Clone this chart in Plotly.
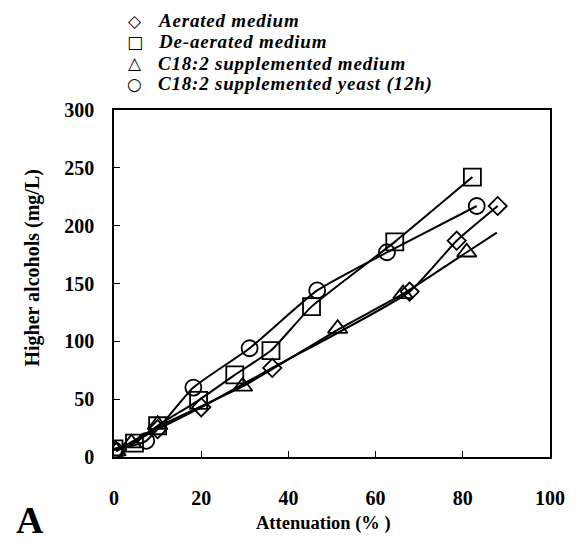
import plotly.graph_objects as go

# Data
aer_x = [0.5, 10, 20, 36.3, 67.8, 78.6, 88]
aer_y = [5, 24, 43, 77, 143, 187, 217]

dea_x = [0, 4.7, 10, 19.4, 27.7, 36, 45.3, 64.4, 82.2]
dea_y = [7, 12, 27, 49, 71, 92, 130, 186, 242]

med_x = [0.5, 4, 10, 29.5, 51.3, 66.3, 80.9]
med_y = [5, 12, 28, 61, 111, 141, 177]
med_fit_x = [0.5, 10, 29.5, 51.3, 66.3, 80.9, 87.8]
med_fit_y = [5, 26, 61, 110, 141, 177, 194]

yst_x = [0, 7.4, 18.2, 31.1, 46.6, 62.6, 83.2]
yst_y = [6, 14, 60, 94, 144, 177, 217]

names = ["Aerated medium", "De-aerated medium",
         "C18:2 supplemented medium", "C18:2 supplemented yeast (12h)"]
symbols = ["diamond-open", "square-open", "triangle-up-open", "circle-open"]
legend_glyphs = ["\u25C7", "\u25A1", "\u25B3", "\u25CB"]
sizes = [14, 17, 17, 16]

SERIF = "Liberation Serif"

# plot area in pixels (used for placing paper-referenced texts)
L, R, T, B = 114, 558, 110, 457
W, H = R - L, B - T

def px(xp):
    return (xp - L) / W

def py(yp):
    return (B - yp) / H

fig = go.Figure()

line_sets = [(aer_x, aer_y), (dea_x, dea_y), (med_fit_x, med_fit_y), (yst_x, yst_y)]
for lx, ly in line_sets:
    fig.add_trace(go.Scatter(x=lx, y=ly, mode="lines", showlegend=False,
                             line=dict(color="black", width=2, shape="spline", smoothing=0.5),
                             hoverinfo="skip"))

pt_sets = [(aer_x, aer_y), (dea_x, dea_y), (med_x, med_y), (yst_x, yst_y)]
for (sx, sy), nm, sym, sz in zip(pt_sets, names, symbols, sizes):
    fig.add_trace(go.Scatter(x=sx, y=sy, mode="markers", name=nm, showlegend=False,
                             marker=dict(symbol=sym, size=sz, color="black",
                                         line=dict(color="black", width=1.8))))

fig.update_layout(
    width=577, height=542,
    margin=dict(l=L, r=577 - R, t=T, b=542 - B),
    paper_bgcolor="white", plot_bgcolor="white",
    font=dict(family=SERIF, color="black"),
    showlegend=False,
    xaxis=dict(range=[0, 100], tickvals=[0, 20, 40, 60, 80, 100],
               ticks="inside", ticklen=6, tickcolor="black", tickwidth=1,
               showline=True, linecolor="black", linewidth=1.5, mirror=True,
               showgrid=False, zeroline=False,
               tickfont=dict(family=SERIF, size=20, weight="bold"),
               ticklabelstandoff=22),
    yaxis=dict(range=[0, 300], tickvals=[0, 50, 100, 150, 200, 250, 300],
               ticks="inside", ticklen=6, tickcolor="black", tickwidth=1,
               showline=True, linecolor="black", linewidth=1.5, mirror=True,
               showgrid=False, zeroline=False,
               tickfont=dict(family=SERIF, size=20, weight="bold"),
               ticklabelstandoff=14),
)

# Axis titles
fig.add_annotation(text="Higher alcohols (mg/L)", xref="paper", yref="paper",
                   x=px(30), y=py(268), textangle=-90, showarrow=False,
                   xanchor="center", yanchor="middle",
                   font=dict(family=SERIF, size=20, weight="bold", color="black"))
fig.add_annotation(text="Attenuation (% )", xref="paper", yref="paper",
                   x=px(327), y=py(523), showarrow=False,
                   xanchor="center", yanchor="middle",
                   font=dict(family=SERIF, size=18.5, weight="bold", color="black"))

# Legend drawn as text (symbol + label), top-left above the plot
row_y = [21, 42, 63, 84]
for g, nm, yy in zip(legend_glyphs, names, row_y):
    fig.add_annotation(text=g, xref="paper", yref="paper",
                       x=px(135), y=py(yy),
                       xanchor="center", yanchor="middle", showarrow=False,
                       font=dict(family="DejaVu Sans", size=17, color="black", weight="bold"))
    fig.add_annotation(text='<span style="letter-spacing:0.8px">' + nm + '</span>',
                       xref="paper", yref="paper",
                       x=px(157), y=py(yy),
                       xanchor="left", yanchor="middle", showarrow=False,
                       font=dict(family=SERIF, size=19, color="black", weight="bold", style="italic"))

fig.add_annotation(text="A", xref="paper", yref="paper", x=px(12), y=py(520),
                   xanchor="left", yanchor="middle", showarrow=False,
                   font=dict(family=SERIF, size=38, weight="bold", color="black"))

fig.write_html("out.html")
